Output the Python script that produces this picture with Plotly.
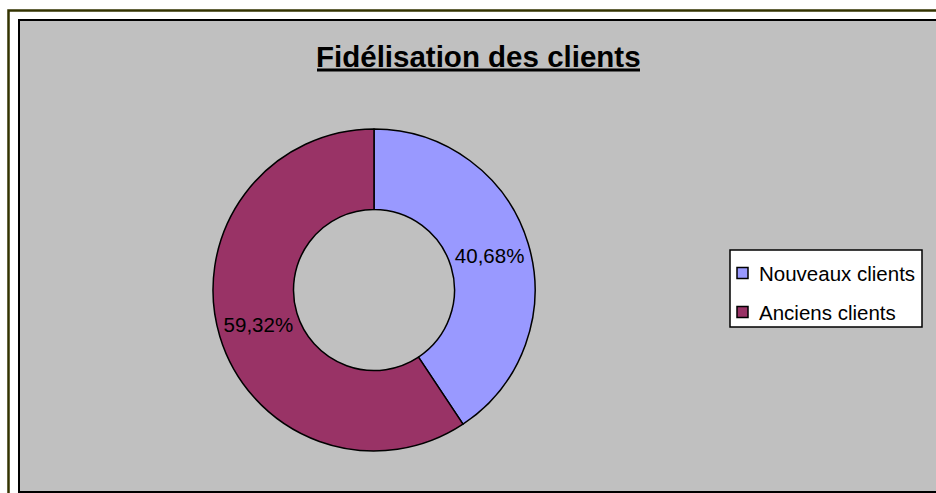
import plotly.graph_objects as go

# Data
labels = ["Nouveaux clients", "Anciens clients"]
values = [40.68, 59.32]
colors = ["#9999FF", "#993366"]
title_text = "Fidélisation des clients"

W, H = 936, 493


def px(x):
    return x / W


def py(y):
    return 1 - y / H


FONT = "Liberation Sans, Arial, sans-serif"
text_labels = [f"{v:.2f}".replace(".", ",") + "%" for v in values]

fig = go.Figure()
fig.add_trace(go.Pie(
    labels=labels,
    values=values,
    text=text_labels,
    textinfo="text",
    textposition="inside",
    insidetextorientation="horizontal",
    hole=0.5,
    sort=False,
    direction="clockwise",
    rotation=0,
    marker=dict(colors=colors, line=dict(color="black", width=1.5)),
    textfont=dict(family=FONT, size=20.5, color="black"),
    domain=dict(x=[px(213), px(535)], y=[py(451), py(129)]),
    showlegend=False,
    hoverinfo="skip",
))

shapes = [
    # outer olive frame
    dict(type="rect", xref="paper", yref="paper", x0=px(8.5), x1=px(960), y0=py(10.5), y1=py(530),
         line=dict(color="#333300", width=2.5), fillcolor="white", layer="below"),
    # gray chart area
    dict(type="rect", xref="paper", yref="paper", x0=px(19), x1=px(960), y0=py(20), y1=py(492),
         line=dict(color="black", width=2), fillcolor="#C0C0C0", layer="below"),
    # title underline
    dict(type="line", xref="paper", yref="paper", x0=px(317), x1=px(640), y0=py(70), y1=py(70),
         line=dict(color="black", width=3)),
    # legend box
    dict(type="rect", xref="paper", yref="paper", x0=px(730), x1=px(922), y0=py(250), y1=py(327),
         line=dict(color="black", width=1.5), fillcolor="white"),
]

annotations = [
    dict(text=f"<b>{title_text}</b>", xref="paper", yref="paper", x=px(478.5), y=py(57),
         xanchor="center", yanchor="middle", showarrow=False,
         font=dict(family=FONT, size=29.5, color="black")),
]

# legend entries built from labels/colors
row_y = [273, 312]
for lab, col, yy in zip(labels, colors, row_y):
    shapes.append(dict(type="rect", xref="paper", yref="paper",
                       x0=px(737), x1=px(748), y0=py(yy - 5.5), y1=py(yy + 5.5),
                       line=dict(color="black", width=1.5), fillcolor=col))
    annotations.append(dict(text=lab, xref="paper", yref="paper", x=px(757), y=py(yy),
                            xanchor="left", yanchor="middle", showarrow=False,
                            font=dict(family=FONT, size=20.5, color="black")))

fig.update_layout(
    width=W, height=H,
    margin=dict(l=0, r=0, t=0, b=0),
    paper_bgcolor="white",
    plot_bgcolor="white",
    shapes=shapes,
    annotations=annotations,
    showlegend=False,
)

fig.write_html(
    "out.html",
    config={"displayModeBar": False},
    post_script="document.body.style.margin='0';document.body.style.overflow='hidden';",
)
